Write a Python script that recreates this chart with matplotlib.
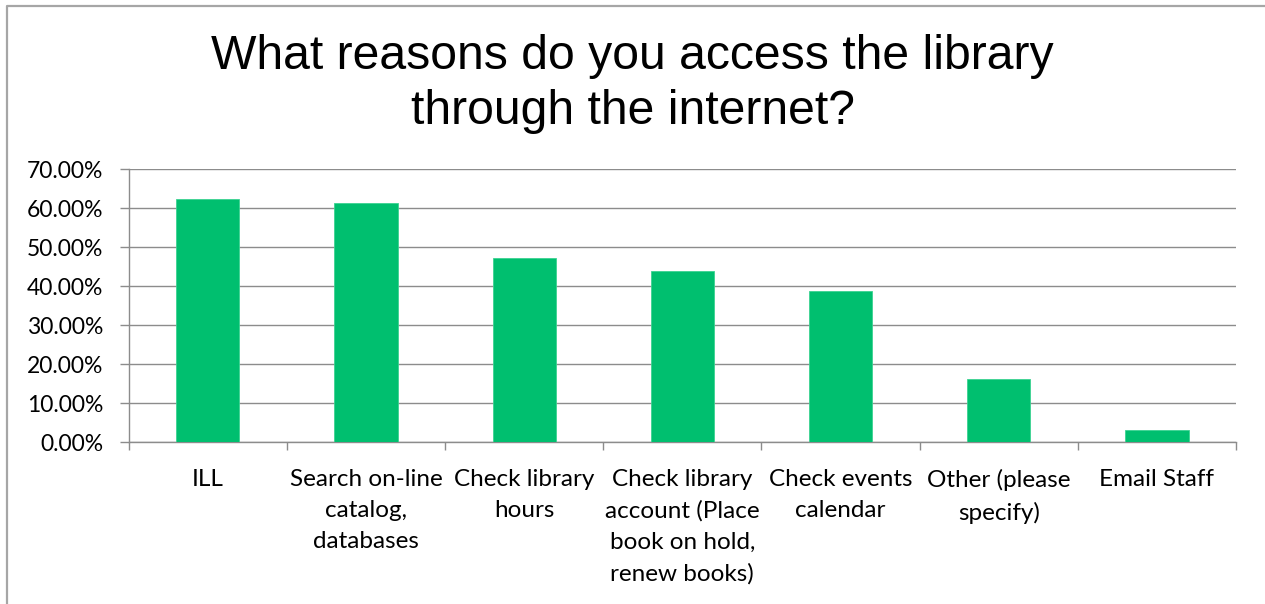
import matplotlib
matplotlib.use("Agg")
import matplotlib.pyplot as plt
from matplotlib.lines import Line2D
from matplotlib.ticker import FixedLocator

categories = [
    "ILL",
    "Search on-line\ncatalog,\ndatabases",
    "Check library\nhours",
    "Check library\naccount (Place\nbook on hold,\nrenew books)",
    "Check events\ncalendar",
    "Other (please\nspecify)",
    "Email Staff",
]
shares = [62.3, 61.3, 47.3, 44.0, 38.7, 16.2, 3.15]
y_ticks = [0, 10, 20, 30, 40, 50, 60, 70]
title = "What reasons do you access the library\nthrough the internet?"

W, H = 1265, 604
fig = plt.figure(figsize=(W / 100, H / 100), dpi=100)
fig.patch.set_facecolor("white")

ax = fig.add_axes([128.7 / W, 1 - 442.3 / H, (1236 - 128.7) / W, (442.3 - 169.3) / H])

x = list(range(len(categories)))
ax.bar(x, shares, width=0.4, color="#00BF6F", edgecolor="#3CD391", linewidth=0.6, zorder=3)

ax.set_xlim(-0.5, len(categories) - 0.5)
ax.set_ylim(0, 70)

grid_c = "#8C8C8C"
ax.yaxis.set_major_locator(FixedLocator(y_ticks))
ax.grid(axis="y", color=grid_c, linewidth=1.0, zorder=0)

for s in ["top", "right"]:
    ax.spines[s].set_visible(False)
for s in ["left", "bottom"]:
    ax.spines[s].set_color(grid_c)
    ax.spines[s].set_linewidth(1.0)

ax.tick_params(axis="y", direction="out", length=6.5, width=1.0, color=grid_c, pad=12,
               labelsize=16.5, labelcolor="black")
ax.set_yticklabels([f"{v:.2f}%" for v in y_ticks], fontfamily="Lato")

# category labels at bar centres, tick marks at category boundaries
ax.set_xticks(x)
ax.set_xticklabels(categories, fontfamily="Lato", fontsize=17.5, linespacing=1.6)
ax.tick_params(axis="x", which="major", length=0, pad=19, labelcolor="black")
ax.set_xticks([i - 0.5 for i in range(len(categories) + 1)], minor=True)
ax.tick_params(axis="x", which="minor", direction="out", length=6, width=1.0, color=grid_c)

fig.text(0.5, 1 - 34 / H, title, ha="center", va="top", fontsize=34.7,
         fontfamily="Liberation Sans", linespacing=1.3)

# chart-area border along the top and left edges
bx = 6.5 / W
by = 1 - 5.5 / H
fig.add_artist(Line2D([bx, bx, 1.0], [0.0, by, by], transform=fig.transFigure,
                      color="#A6A6A6", linewidth=1.6))

fig.savefig("out.png", dpi=100, facecolor="white")
